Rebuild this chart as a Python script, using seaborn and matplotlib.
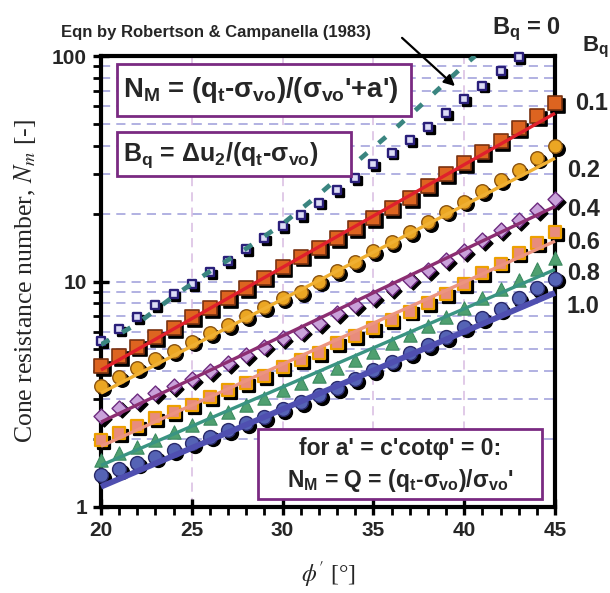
import matplotlib
matplotlib.use("Agg")
import matplotlib.pyplot as plt
import matplotlib.transforms as mtransforms
from matplotlib.patches import Rectangle, FancyArrowPatch
from matplotlib.ticker import FixedLocator, FixedFormatter, NullFormatter
import pandas as pd
import seaborn as sns

# ---------------- data ----------------
phi = list(range(20, 46))          # friction angle, degrees
phi_bq0 = list(range(20, 44))

nm_bq0 = [5.46, 6.14, 6.94, 7.87, 8.80, 9.75, 11.0, 12.3, 13.9, 15.6, 17.6, 19.7,
          22.4, 25.5, 28.7, 33.1, 37.3, 42.4, 48.5, 55.7, 64.5, 73.9, 85.8, 99.0]
nm_bq01 = [4.22, 4.67, 5.14, 5.66, 6.20, 6.94, 7.60, 8.43, 9.33, 10.4, 11.6, 12.9, 14.1,
           15.6, 17.3, 19.1, 21.2, 23.5, 26.5, 29.9, 33.4, 37.6, 42.0, 47.8, 54.2, 61.7]
nm_bq02 = [3.44, 3.78, 4.12, 4.52, 4.93, 5.41, 5.89, 6.41, 7.03, 7.69, 8.43, 9.01, 10.0,
           11.1, 12.2, 13.6, 14.9, 16.5, 18.4, 20.4, 22.6, 25.2, 28.2, 31.2, 35.2, 40.0]
nm_bq04 = [2.53, 2.76, 2.96, 3.19, 3.44, 3.70, 4.02, 4.36, 4.72, 5.14, 5.60, 5.99, 6.56,
           7.23, 7.87, 8.56, 9.33, 10.2, 11.2, 12.4, 13.6, 15.2, 16.9, 18.7, 20.7, 23.2]
nm_bq06 = [1.98, 2.12, 2.29, 2.47, 2.63, 2.83, 3.07, 3.30, 3.54, 3.82, 4.17, 4.49, 4.83,
           5.32, 5.73, 6.20, 6.75, 7.35, 8.05, 8.80, 9.75, 10.9, 12.0, 13.4, 14.8, 16.6]
nm_bq08 = [1.62, 1.73, 1.85, 1.98, 2.14, 2.31, 2.47, 2.65, 2.83, 3.03, 3.30, 3.54, 3.81,
           4.12, 4.49, 4.88, 5.32, 5.79, 6.35, 6.98, 7.60, 8.43, 9.23, 10.2, 11.4, 12.7]
nm_bq10 = [1.39, 1.47, 1.57, 1.67, 1.79, 1.92, 2.05, 2.19, 2.35, 2.51, 2.71, 2.93, 3.14,
           3.36, 3.70, 4.05, 4.41, 4.83, 5.23, 5.69, 6.26, 6.87, 7.53, 8.42, 9.33, 10.3]

# approximate (fitted) relations, straight on the log axis
fit_phi = [20, 45]
fit_bq01 = [4.05, 55.7]
fit_bq02 = [3.20, 35.2]
fit_bq04 = [2.38, 21.5]
fit_bq06 = [1.86, 15.1]
fit_bq08 = [1.53, 11.3]
fit_bq10 = [1.23, 8.9]

# Robertson & Campanella (1983)
rc_phi = [20, 22, 24, 26, 28, 30, 32, 34, 36, 38, 40, 40.6]
rc_nm = [5.25, 6.5, 8.6, 11.1, 14.0, 18.0, 24.3, 33.5, 46.0, 64.5, 91.0, 100.0]

bq_labels = ["0.1", "0.2", "0.4", "0.6", "0.8", "1.0"]
x_ticks = [20, 25, 30, 35, 40, 45]
y_ticks = [1, 10, 100]
y_tick_labels = ["1", "10", "100"]

# ---------------- style ----------------
sns.set_theme(style="white")
plt.rcParams["font.family"] = ["Liberation Sans", "DejaVu Sans"]
plt.rcParams["mathtext.fontset"] = "custom"
plt.rcParams["mathtext.rm"] = "Liberation Sans:bold"
plt.rcParams["mathtext.it"] = "Liberation Sans:bold"
plt.rcParams["mathtext.bf"] = "Liberation Sans:bold"

W, H = 610, 593
fig = plt.figure(figsize=(W / 100, H / 100), dpi=100)
fig.patch.set_facecolor("white")
L, R, T, B = 101, 555, 56, 507
ax = fig.add_axes([L / W, 1 - B / H, (R - L) / W, (B - T) / H])


def fx(x):
    return x / W


def fy(y):
    return 1 - y / H


shadow = mtransforms.offset_copy(ax.transData, fig=fig, x=2.8, y=-2.8, units="dots")

series = [
    (phi_bq0, nm_bq0, "s", 30, "#DCDCF6", "#2A1F7A", 1.7, True),
    (phi, nm_bq01, "s", 105, "#DD6420", "#7A3210", 1.2, True),
    (phi, nm_bq02, "o", 95, "#EBA623", "#8A5310", 1.0, True),
    (phi, nm_bq04, "D", 58, "#C9A2DA", "#6E2C80", 1.0, True),
    (phi, nm_bq06, "s", 72, "#E88C7C", "#EDA000", 1.6, True),
    (phi, nm_bq08, "^", 92, "#4FA070", "#3C8A60", 0.8, False),
    (phi, nm_bq10, "o", 100, "#5563B5", "#2A2A6A", 1.0, True),
]

for xs, ys, mk, s, fc, ec, lw, shad in series:
    df = pd.DataFrame({"phi": xs, "nm": ys})
    if shad:
        sns.scatterplot(data=df, x="phi", y="nm", ax=ax, marker=mk, s=s, color="black",
                        edgecolor="black", linewidth=lw, transform=shadow,
                        clip_on=False, zorder=4, legend=False)
    sns.scatterplot(data=df, x="phi", y="nm", ax=ax, marker=mk, s=s, color=fc,
                    edgecolor=ec, linewidth=lw, clip_on=False, zorder=5, legend=False)

fits = [
    (fit_bq01, "#E0202C", 2.4),
    (fit_bq02, "#F0B032", 2.4),
    (fit_bq04, "#8C2E72", 2.4),
    (fit_bq06, "#EC9480", 2.4),
    (fit_bq08, "#3A9482", 2.4),
    (fit_bq10, "#4F4FB0", 4.2),
]
for ys, c, lw in fits:
    sns.lineplot(x=fit_phi, y=ys, ax=ax, color=c, lw=lw, zorder=6, clip_on=False,
                 solid_capstyle="butt")

sns.lineplot(x=rc_phi, y=rc_nm, ax=ax, color="#3A8580", lw=3.4, zorder=6,
             linestyle=(0, (2.0, 3.2)), dash_capstyle="butt")

# ---------------- axes ----------------
ax.set_yscale("log")
ax.set_xlim(20, 45)
ax.set_ylim(1, 100)
ax.xaxis.set_major_locator(FixedLocator(x_ticks))
ax.xaxis.set_minor_locator(FixedLocator(list(range(20, 46))))
ax.yaxis.set_major_locator(FixedLocator(y_ticks))
ax.yaxis.set_major_formatter(FixedFormatter(y_tick_labels))
ax.yaxis.set_minor_locator(FixedLocator([m * 10 ** e for e in (0, 1) for m in range(2, 10)]))
ax.yaxis.set_minor_formatter(NullFormatter())

for sp in ax.spines.values():
    sp.set_linewidth(3.0)
    sp.set_color("black")
    sp.set_visible(True)

ax.tick_params(which="major", direction="inout", length=12, width=2.4, color="black",
               labelsize=15, pad=4, bottom=True, left=True)
ax.tick_params(which="minor", direction="out", length=6, width=2.0, color="black",
               bottom=True, left=True)
for lab in ax.get_xticklabels() + ax.get_yticklabels():
    lab.set_fontweight("bold")
    lab.set_fontfamily("Liberation Sans")

ax.yaxis.grid(True, which="both", color="#9C9CDA", lw=1.1, ls=(0, (6, 4)))
ax.xaxis.grid(True, which="major", color="#D9BCE2", lw=1.1, ls=(0, (6, 4)))
ax.set_axisbelow(True)

ax.set_xlabel(r"$\phi'$ [°]", fontsize=17, family="Liberation Serif",
              math_fontfamily="stix", labelpad=14)
ax.set_ylabel(r"Cone resistance number, $N_m$ [-]", fontsize=18.5,
              family="Liberation Serif", math_fontfamily="stix", labelpad=10)

# ---------------- annotation boxes ----------------
purple = "#7A2A82"
for (x0, y0, x1, y1) in [(117, 64, 411, 116), (117, 132, 351, 176), (258, 429, 542, 499)]:
    fig.add_artist(Rectangle((fx(x0), fy(y1)), fx(x1 - x0), (y1 - y0) / H,
                             transform=fig.transFigure, facecolor="white",
                             edgecolor=purple, lw=2.0, zorder=7))

fig.text(fx(123), fy(90), r"N$_\mathrm{M}$ = (q$_\mathrm{t}$-σ$_\mathrm{vo}$)/(σ$_\mathrm{vo}$'+a')",
         fontsize=19.8, fontweight="bold", ha="left", va="center", zorder=8)
fig.text(fx(123), fy(155), r"B$_\mathrm{q}$ = Δu$_\mathrm{2}$/(q$_\mathrm{t}$-σ$_\mathrm{vo}$)",
         fontsize=18, fontweight="bold", ha="left", va="center", zorder=8)
fig.text(fx(400), fy(448), "for a' = c'cotφ' = 0:",
         fontsize=16.5, fontweight="bold", ha="center", va="center", zorder=8)
fig.text(fx(400), fy(481), r"N$_\mathrm{M}$ = Q = (q$_\mathrm{t}$-σ$_\mathrm{vo}$)/σ$_\mathrm{vo}$'",
         fontsize=16.5, fontweight="bold", ha="center", va="center", zorder=8)

# reference relation label and arrow
fig.text(fx(61), fy(33), "Eqn by Robertson & Campanella (1983)", fontsize=12,
         fontweight="bold", ha="left", va="center")
fig.add_artist(FancyArrowPatch(
    (fx(400), fy(36)), (fx(457), fy(88)), transform=fig.transFigure,
    arrowstyle="-|>", mutation_scale=16, lw=1.6, color="black"))

# B_q labels on the right
fig.text(fx(492), fy(29), r"B$_\mathrm{q}$ = 0", fontsize=17, fontweight="bold",
         ha="left", va="center")
fig.text(fx(582), fy(47), r"B$_\mathrm{q}$", fontsize=16, fontweight="bold",
         ha="left", va="center")
label_y = [103, 170, 210, 243, 274, 306]
for lab, yy in zip(bq_labels, label_y):
    xx = 575 if lab == "0.1" else 567
    fig.text(fx(xx), fy(yy), lab, fontsize=17, fontweight="bold", ha="left", va="center")

fig.savefig("out.png", dpi=100)
